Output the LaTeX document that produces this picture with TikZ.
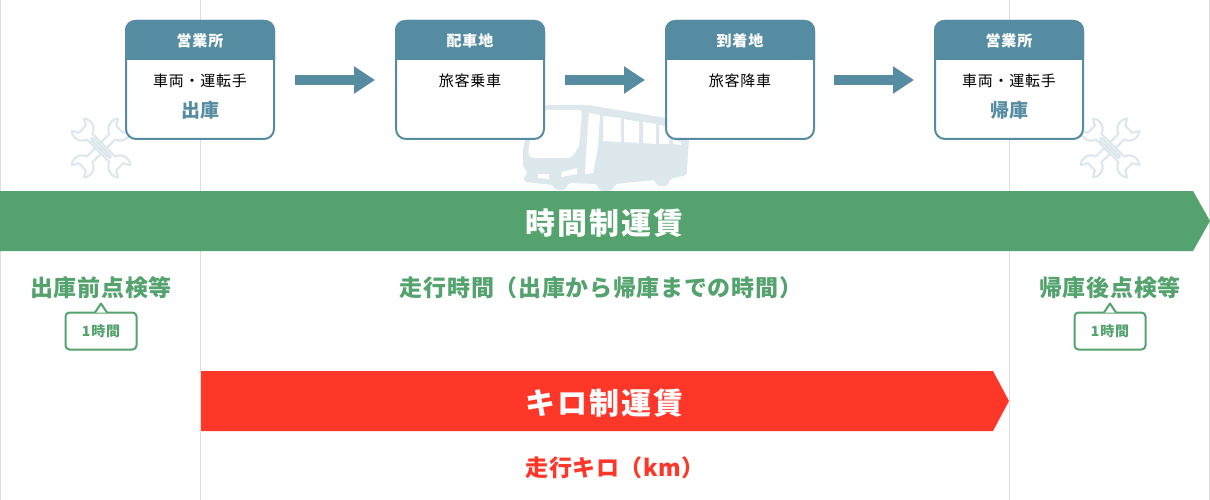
\documentclass[tikz,border=0pt]{standalone}
\usepackage{fontspec}
\setmainfont{Noto Sans CJK JP}
\usetikzlibrary{arrows.meta}
\definecolor{stopteal}{HTML}{558CA2}
\definecolor{fadeteal}{HTML}{DDE8ED}
\definecolor{timegreen}{HTML}{54A26D}
\definecolor{kmred}{HTML}{FF3729}
\definecolor{divider}{HTML}{DDDDDD}
\newcommand{\jptext}[2]{\fontsize{#1}{#1}\selectfont\bfseries\addfontfeature{LetterSpace=#2}}
\tikzset{
    stopbox/.style={draw=stopteal, line width=2, fill=white, rounded corners=10, minimum width=148, minimum height=118},
    stoptitle/.style={text=white, font=\jptext{15}{6}},
    stoptext/.style={font=\fontsize{15}{15}\selectfont\addfontfeature{LetterSpace=5}},
    stopmark/.style={text=stopteal, font=\jptext{19}{0}},
    flowarrow/.style={draw=stopteal, line width=10, -{Triangle[length=21,width=26]}},
    bandtitle/.style={text=white, font=\jptext{30}{7}},
    greenlabel/.style={text=timegreen, font=\jptext{23}{3}},
    redlabel/.style={text=kmred, font=\jptext{23}{2}},
    hoursbox/.style={draw=timegreen, line width=2, fill=white, rounded corners=4, minimum width=71, minimum height=37, text=timegreen, font=\jptext{14}{6}},
    hoursnotch/.style={draw=timegreen, line width=2, fill=white, line join=round},
    wrenchline/.style={draw=fadeteal, line width=2.2, fill=white, line join=round},
    wrench/.pic={
        \draw[wrenchline] (-20,5) -- (20,5) .. controls (22,10) and (26,14) .. (32,14)
            .. controls (36,14) .. (41,11) -- (33,6) -- (33,-6) -- (41,-11)
            .. controls (36,-14) .. (32,-14) .. controls (26,-14) and (22,-10) .. (20,-5)
            -- (-20,-5) .. controls (-22,-10) and (-26,-14) .. (-32,-14)
            .. controls (-36,-14) .. (-41,-11) -- (-33,-6) -- (-33,6) -- (-41,11)
            .. controls (-36,14) .. (-32,14) .. controls (-26,14) and (-22,10) .. (-20,5) -- cycle;
    },
    wrenchslot/.pic={
        \draw[wrenchline, rounded corners=1.5] (-17,-1.8) rectangle (17,1.8);
    },
}
\begin{document}
\begin{tikzpicture}[x=1pt, y=-1pt]
    \useasboundingbox (0,0) rectangle (1210,500);

    % dividers
    \foreach \x in {0.5, 200.5, 1009.5, 1209.5}
        \draw[divider, line width=1] (\x,0) -- (\x,500);

    % wrenches
    \foreach \x in {101, 1110} {
        \pic[rotate=45, scale=.8] at (\x,148) {wrench};
        \pic[rotate=-45, scale=.8] at (\x,148) {wrench};
        \pic[rotate=-45, scale=.8] at (\x,148) {wrenchslot};
    }

    % bus
    \fill[fadeteal, rounded corners=3] (545,105) -- (588,105) -- (690,122) -- (687,170) -- (687,175)
        -- (670,179) -- (668,186) -- (657,186) -- (655,180) -- (615,184) -- (612,191) -- (599,191)
        -- (597,184) -- (568,183) -- (566,190) -- (555,190) -- (553,185) -- (525,182) -- (523,178)
        -- (528,173) -- (523,167) -- (523,150) -- (528,123) -- cycle;
    \fill[white, rounded corners=3] (545,110) -- (582,110) -- (579,147) -- (571,158) -- (532,158)
        -- (528,155) -- (533,117) -- cycle;
    \fill[white] (589,113) -- (600,115) -- (598,147) -- (593,173) -- (585,174) -- (587,140) -- cycle;
    \fill[white] (603,116) -- (621,118) -- (621,142) -- (603,141) -- cycle;
    \fill[white] (624,119) -- (639,122) -- (639,143) -- (624,142) -- cycle;
    \fill[white] (643,122) -- (656,124) -- (656,144) -- (643,143) -- cycle;
    \fill[white] (659,125) -- (670,127) -- (669,144) -- (659,144) -- cycle;
    \fill[white] (673,140) -- (681,142) -- (681,145) -- (673,144) -- cycle;
    \fill[white] (538,174) -- (549,174) -- (549,179) -- (538,178) -- cycle;
    \fill[white] (562,172) -- (577,168) -- (577,174) -- (561,177) -- cycle;

    % stops
    \foreach \name/\x/\title in {a/200/営業所, b/470/配車地, c/740/到着地, d/1009/営業所} {
        \node[stopbox] (stop\name) at (\x,80) {};
        \fill[stopteal] (stop\name.west |- 0,60) [rounded corners=10] -- (stop\name.north west)
            -- (stop\name.north east) [sharp corners] -- (stop\name.east |- 0,60) -- cycle;
        \node[stoptitle] (title\name) at (\x,40.5) {\title};
    }
    \node[stoptext] (texta) at (200,81) {車両・運転手};
    \node[stoptext] (textb) at (470,81) {旅客乗車};
    \node[stoptext] (textc) at (740,81) {旅客降車};
    \node[stoptext] (textd) at (1009,81) {車両・運転手};
    \node[stopmark] (marka) at (200,110) {出庫};
    \node[stopmark] (markd) at (1009,110) {帰庫};

    % arrows
    \draw[flowarrow] ([xshift=20]stopa.east) -- ([xshift=-20]stopb.west);
    \draw[flowarrow] ([xshift=20]stopb.east) -- ([xshift=-20]stopc.west);
    \draw[flowarrow] ([xshift=19]stopc.east) -- ([xshift=-20]stopd.west);

    % bands
    \fill[timegreen] (0,191) -- (1193,191) -- (1210,221) -- (1193,251) -- (0,251) -- cycle;
    \node[bandtitle] (timeband) at (604.5,223) {時間制運賃};
    \fill[kmred] (201,371) -- (993,371) -- (1009,401) -- (993,431) -- (201,431) -- cycle;
    \node[bandtitle] (kmband) at (604.5,403) {キロ制運賃};

    % labels
    \node[greenlabel] (before) at (101,288) {出庫前点検等};
    \node[greenlabel] (running) at (601,288) {走行時間（出庫から帰庫までの時間）};
    \node[greenlabel] (after) at (1110,288) {帰庫後点検等};
    \node[redlabel] (kmlabel) at (615,468) {走行キロ（km）};

    % one hour boxes
    \foreach \name/\x in {before/101, after/1110} {
        \node[hoursbox] (hours\name) at (\x,331) {1時間};
        \draw[hoursnotch] ([xshift=-6pt,yshift=-1pt]hours\name.north) -- ([yshift=8pt]hours\name.north)
            -- ([xshift=6pt,yshift=-1pt]hours\name.north);
    }
\end{tikzpicture}
\end{document}
